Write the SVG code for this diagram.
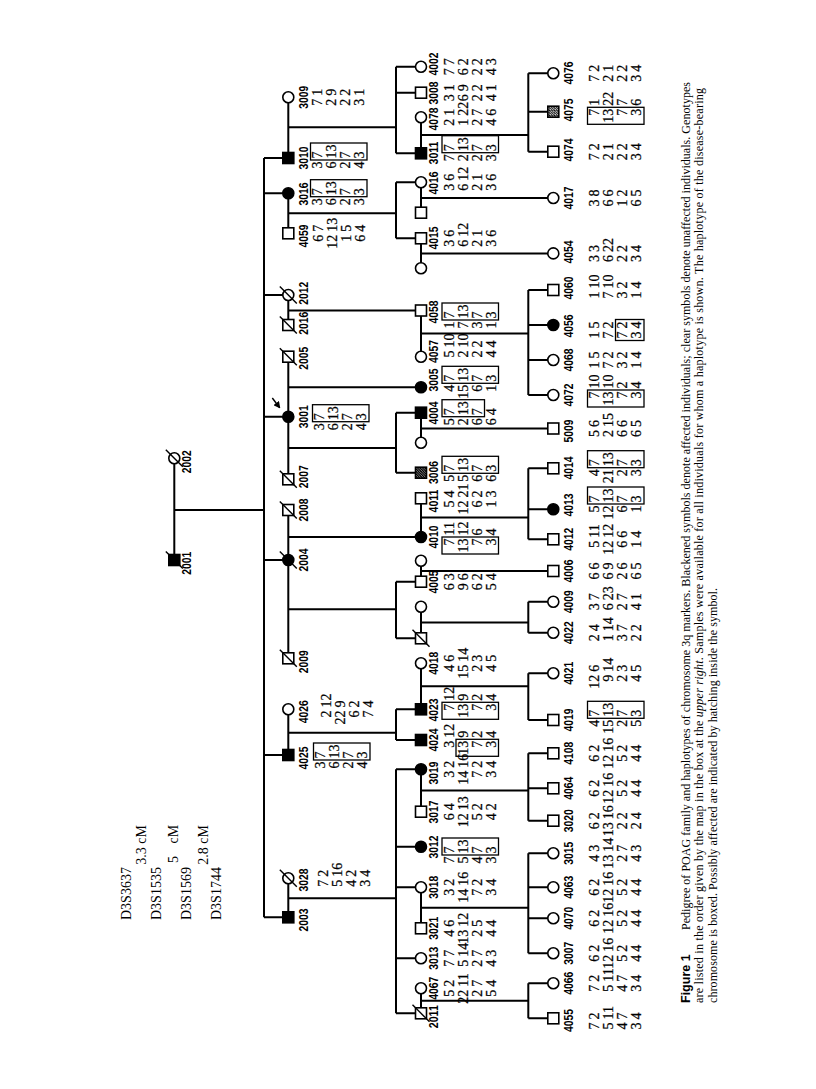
<svg xmlns="http://www.w3.org/2000/svg" width="816" height="1089" viewBox="0 0 816 1089">
<style>
.ln{fill:none;stroke:#000;stroke-width:2}
.s{fill:#fff;stroke:#000;stroke-width:1.6}
.f{fill:#000;stroke:#000;stroke-width:1.6}
.h{fill:url(#hat);stroke:#000;stroke-width:1.6}
.h2{fill:url(#hat2);stroke:#000;stroke-width:1.6}
.d{fill:none;stroke:#000;stroke-width:1.4}
.lb{font-family:"Liberation Sans Narrow","Liberation Sans",Arial,sans-serif;font-weight:bold;font-size:12.5px;text-anchor:middle}
.gt text{font-family:"Liberation Serif","Times New Roman",serif;font-size:14px;stroke:#000;stroke-width:0.25}
.gt .a{text-anchor:end}
.bx{fill:none;stroke:#000;stroke-width:1.3}
.mk{font-family:"Liberation Serif","Times New Roman",serif;font-size:14px}
.cap{font-family:"Liberation Serif","Times New Roman",serif;font-size:12px}
.fig{font-family:"Liberation Sans",Arial,sans-serif;font-weight:bold;font-size:12.5px}
</style>
<defs>
<pattern id="hat" width="2.5" height="2.5" patternUnits="userSpaceOnUse"><rect width="2.5" height="2.5" fill="#fff"/><path d="M0 2.5L2.5 0" stroke="#000" stroke-width="1.3"/></pattern>
<pattern id="hat2" width="2.5" height="2.5" patternUnits="userSpaceOnUse"><rect width="2.5" height="2.5" fill="#000"/><path d="M0 2.5L2.5 0" stroke="#fff" stroke-width="0.5"/></pattern>
<rect id="sq" x="-5.5" y="-5.5" width="11" height="11"/>
<circle id="ci" r="5.5"/>
<path id="sl" d="M-8.5 8.5L8.5-8.5"/>
<marker id="ah" viewBox="0 0 10 10" refX="8" refY="5" markerWidth="5" markerHeight="5" orient="auto"><path d="M0 0L10 5L0 10z"/></marker>
</defs>
<rect width="816" height="1089" fill="#fff"/>
<g transform="matrix(0,-1,1,0,0,1089)">
<g id="map">
<text class="mk" x="169" y="131.3">D3S3637</text>
<text class="mk" x="264" y="146.3" text-anchor="end">3.3 cM</text>
<text class="mk" x="169" y="161.3">D3S1535</text>
<text class="mk" x="226" y="178">5<tspan x="245.5">cM</tspan></text>
<text class="mk" x="169" y="191.3">D3S1569</text>
<text class="mk" x="264" y="208" text-anchor="end">2.8 cM</text>
<text class="mk" x="169" y="221.3">D3S1744</text>
</g>
<g id="connectors">
<path class="ln" d="M529 174.3H630.7M579 174.3V264M171.7 264H931M931 264V288.3M895.7 264V288.3M794 264V288.3M672.3 264V288.3M529 264V288.3M334 264V288.3M171.7 264V288.3
M931 288.3H991.7M855.7 288.3H895.7M764 288.3H794M609.7 288.3H732.3M430.7 288.3H579M334 288.3H379.7M171.7 288.3H210.7
M961.7 288.3V396M875.7 288.3V396M778.5 288.3V421M701.7 288.3V421M641 288.3V396M552 288.3V421M479.7 288.3V396M356.3 288.3V396M190.7 288.3V396
M935.7 396H1022.3M850.7 396H906.7M616.3 396H676.3M450.7 396H507.3M349 396H379.7M75.7 396H319.7
M1022.3 396V421M996.3 396V421M935.7 396V421M906.7 396V421M850.7 396V421M676.3 396V421M616.3 396V421M507.3 396V421M450.7 396V421M379.7 396V421M349 396V421M319.7 396V421M242.3 396V421M201.7 396V421M130.7 396V421M75.7 396V421
M935.7 421H971.7M876.3 421H906.7M820.7 421H850.7M732.3 421H778.5M646.3 421H676.3M552 421H590.7M507.3 421H528.3M450.7 421H482.3M379.7 421H425.7M277.3 421H319.7M160.7 421H201.7M75.7 421H100.7
M954 421V528.3M891 421V553.3M835.6 421V553.3M755.5 421V528.3M660.5 421V553.3M571.4 421V528.3M518 421V553.3M466.5 421V528.3M402.7 421V528.3M298.5 421V528.3M181.2 421V528.3M88.2 421V528.3
M937.3 528.3H1015.7M694 528.3H799M549.7 528.3H620.7M456.3 528.3H487.3M369 528.3H415.7M268.3 528.3H335.7M135.7 528.3H235.7M70.7 528.3H105.7
M1015.7 528.3V553.3M977.3 528.3V553.3M937.3 528.3V553.3M799 528.3V553.3M764 528.3V553.3M729 528.3V553.3M694 528.3V553.3M620.7 528.3V553.3M579.7 528.3V553.3M549.7 528.3V553.3M487.3 528.3V553.3M456.3 528.3V553.3M415.7 528.3V553.3M369 528.3V553.3M335.7 528.3V553.3M300.7 528.3V553.3M268.3 528.3V553.3M235.7 528.3V553.3M201.7 528.3V553.3M170.7 528.3V553.3M135.7 528.3V553.3M105.7 528.3V553.3M70.7 528.3V553.3"/>
<path d="M691 272.3L681.5 279.5" stroke="#000" stroke-width="1.4" marker-end="url(#ah)"/>
</g>
<!-- generation 1 -->
<g id="n2002"><use href="#ci" class="s" x="630.7" y="174.3"/><use href="#sl" class="d" x="630.7" y="174.3"/><text class="lb" x="627.3" y="191" textLength="23" lengthAdjust="spacingAndGlyphs">2002</text></g>
<g id="n2001"><use href="#sq" class="f" x="529" y="174.3"/><use href="#sl" class="d" x="529" y="174.3"/><text class="lb" x="525.7" y="191" textLength="23" lengthAdjust="spacingAndGlyphs">2001</text></g>
<!-- generation 2 -->
<g id="n3009"><use href="#ci" class="s" x="991.7" y="288.3"/><text class="lb" x="991.7" y="307.5" textLength="23" lengthAdjust="spacingAndGlyphs">3009</text>
<g class="gt" transform="translate(991.7,322)"><text class="a" x="-1.5">7</text><text x="1.5">1</text><text class="a" x="-1.5" y="14">2</text><text x="1.5" y="14">9</text><text class="a" x="-1.5" y="28">2</text><text x="1.5" y="28">2</text><text class="a" x="-1.5" y="42">3</text><text x="1.5" y="42">1</text></g></g>
<g id="n3010"><use href="#sq" class="f" x="931" y="288.3"/><text class="lb" x="931" y="307.5" textLength="23" lengthAdjust="spacingAndGlyphs">3010</text>
<g class="gt" transform="translate(929,322)"><text class="a" x="-1.5">3</text><text x="1.5">7</text><text class="a" x="-1.5" y="14">6</text><text x="1.5" y="14">13</text><text class="a" x="-1.5" y="28">2</text><text x="1.5" y="28">7</text><text class="a" x="-1.5" y="42">4</text><text x="1.5" y="42">3</text><rect class="bx" x="0" y="-11.5" width="17" height="56.5"/></g></g>
<g id="n3016"><use href="#ci" class="f" x="895.7" y="288.3"/><text class="lb" x="895" y="307.5" textLength="23" lengthAdjust="spacingAndGlyphs">3016</text>
<g class="gt" transform="translate(892.3,322)"><text class="a" x="-1.5">3</text><text x="1.5">7</text><text class="a" x="-1.5" y="14">6</text><text x="1.5" y="14">13</text><text class="a" x="-1.5" y="28">2</text><text x="1.5" y="28">7</text><text class="a" x="-1.5" y="42">3</text><text x="1.5" y="42">3</text><rect class="bx" x="0" y="-11.5" width="17" height="56.5"/></g></g>
<g id="n4059"><use href="#sq" class="s" x="855.7" y="288.3"/><text class="lb" x="853" y="307.5" textLength="23" lengthAdjust="spacingAndGlyphs">4059</text>
<g class="gt" transform="translate(855.7,322.5)"><text class="a" x="-1.5">6</text><text x="1.5">7</text><text class="a" x="-1.5" y="14">12</text><text x="1.5" y="14">13</text><text class="a" x="-1.5" y="28">1</text><text x="1.5" y="28">5</text><text class="a" x="-1.5" y="42">6</text><text x="1.5" y="42">4</text></g></g>
<g id="n2012"><use href="#ci" class="s" x="794" y="288.3"/><use href="#sl" class="d" x="794" y="288.3"/><text class="lb" x="795.7" y="307.5" textLength="23" lengthAdjust="spacingAndGlyphs">2012</text></g>
<g id="n2016"><use href="#sq" class="s" x="764" y="288.3"/><use href="#sl" class="d" x="764" y="288.3"/><text class="lb" x="765.7" y="307.5" textLength="23" lengthAdjust="spacingAndGlyphs">2016</text></g>
<g id="n2005"><use href="#sq" class="s" x="732.3" y="288.3"/><use href="#sl" class="d" x="732.3" y="288.3"/><text class="lb" x="730.7" y="307.5" textLength="23" lengthAdjust="spacingAndGlyphs">2005</text></g>
<g id="n3001"><use href="#ci" class="f" x="672.3" y="288.3"/><text class="lb" x="672.3" y="307.5" textLength="23" lengthAdjust="spacingAndGlyphs">3001</text>
<g class="gt" transform="translate(667.3,324)"><text class="a" x="-1.5">3</text><text x="1.5">7</text><text class="a" x="-1.5" y="14">6</text><text x="1.5" y="14">13</text><text class="a" x="-1.5" y="28">2</text><text x="1.5" y="28">7</text><text class="a" x="-1.5" y="42">4</text><text x="1.5" y="42">3</text><rect class="bx" x="0" y="-11.5" width="17" height="56.5"/></g></g>
<g id="n2007"><use href="#sq" class="s" x="609.7" y="288.3"/><use href="#sl" class="d" x="609.7" y="288.3"/><text class="lb" x="612.3" y="307.5" textLength="23" lengthAdjust="spacingAndGlyphs">2007</text></g>
<g id="n2008"><use href="#sq" class="s" x="579" y="288.3"/><use href="#sl" class="d" x="579" y="288.3"/><text class="lb" x="579" y="307.5" textLength="23" lengthAdjust="spacingAndGlyphs">2008</text></g>
<g id="n2004"><use href="#ci" class="f" x="529" y="288.3"/><use href="#sl" class="d" x="529" y="288.3"/><text class="lb" x="529" y="307.5" textLength="23" lengthAdjust="spacingAndGlyphs">2004</text></g>
<g id="n2009"><use href="#sq" class="s" x="430.7" y="288.3"/><use href="#sl" class="d" x="430.7" y="288.3"/><text class="lb" x="427.3" y="307.5" textLength="23" lengthAdjust="spacingAndGlyphs">2009</text></g>
<g id="n4026"><use href="#ci" class="s" x="379.7" y="288.3"/><text class="lb" x="377.3" y="307.5" textLength="23" lengthAdjust="spacingAndGlyphs">4026</text>
<g class="gt" transform="translate(380,331)"><text class="a" x="-1.5">2</text><text x="1.5">12</text><text class="a" x="-1.5" y="14">22</text><text x="1.5" y="14">9</text><text class="a" x="-1.5" y="28">6</text><text x="1.5" y="28">2</text><text class="a" x="-1.5" y="42">7</text><text x="1.5" y="42">4</text></g></g>
<g id="n4025"><use href="#sq" class="f" x="334" y="288.3"/><text class="lb" x="331" y="307.5" textLength="23" lengthAdjust="spacingAndGlyphs">4025</text>
<g class="gt" transform="translate(329,325)"><text class="a" x="-1.5">3</text><text x="1.5">7</text><text class="a" x="-1.5" y="14">6</text><text x="1.5" y="14">13</text><text class="a" x="-1.5" y="28">2</text><text x="1.5" y="28">7</text><text class="a" x="-1.5" y="42">4</text><text x="1.5" y="42">3</text><rect class="bx" x="0" y="-11.5" width="17" height="56.5"/></g></g>
<g id="n3028"><use href="#ci" class="s" x="210.7" y="288.3"/><use href="#sl" class="d" x="210.7" y="288.3"/><text class="lb" x="209" y="307.5" textLength="23" lengthAdjust="spacingAndGlyphs">3028</text>
<g class="gt" transform="translate(210.7,328)"><text class="a" x="-1.5">7</text><text x="1.5">2</text><text class="a" x="-1.5" y="14">5</text><text x="1.5" y="14">16</text><text class="a" x="-1.5" y="28">4</text><text x="1.5" y="28">2</text><text class="a" x="-1.5" y="42">3</text><text x="1.5" y="42">4</text></g></g>
<g id="n2003"><use href="#sq" class="f" x="171.7" y="288.3"/><text class="lb" x="169" y="307.5" textLength="23" lengthAdjust="spacingAndGlyphs">2003</text></g>
<!-- generation 3 -->
<g id="n4002"><use href="#ci" class="s" x="1022.3" y="421"/><text class="lb" x="1025" y="437.5" textLength="23" lengthAdjust="spacingAndGlyphs">4002</text>
<g class="gt" transform="translate(1022.3,453.5)"><text class="a" x="-1.5">7</text><text x="1.5">7</text><text class="a" x="-1.5" y="14">6</text><text x="1.5" y="14">2</text><text class="a" x="-1.5" y="28">2</text><text x="1.5" y="28">2</text><text class="a" x="-1.5" y="42">4</text><text x="1.5" y="42">3</text></g></g>
<g id="n3008"><use href="#sq" class="s" x="996.3" y="421"/><text class="lb" x="996" y="437.5" textLength="23" lengthAdjust="spacingAndGlyphs">3008</text>
<g class="gt" transform="translate(996.3,453.5)"><text class="a" x="-1.5">3</text><text x="1.5">1</text><text class="a" x="-1.5" y="14">6</text><text x="1.5" y="14">9</text><text class="a" x="-1.5" y="28">2</text><text x="1.5" y="28">2</text><text class="a" x="-1.5" y="42">4</text><text x="1.5" y="42">1</text></g></g>
<g id="n4078"><use href="#ci" class="s" x="971.7" y="421"/><text class="lb" x="970" y="437.5" textLength="23" lengthAdjust="spacingAndGlyphs">4078</text>
<g class="gt" transform="translate(971.7,453.5)"><text class="a" x="-1.5">2</text><text x="1.5">1</text><text class="a" x="-1.5" y="14">1</text><text x="1.5" y="14">22</text><text class="a" x="-1.5" y="28">2</text><text x="1.5" y="28">7</text><text class="a" x="-1.5" y="42">4</text><text x="1.5" y="42">6</text></g></g>
<g id="n3011"><use href="#sq" class="f" x="935.7" y="421"/><text class="lb" x="936" y="437.5" textLength="23" lengthAdjust="spacingAndGlyphs">3011</text>
<g class="gt" transform="translate(936.3,453.5)"><text class="a" x="-1.5">7</text><text x="1.5">7</text><text class="a" x="-1.5" y="14">2</text><text x="1.5" y="14">13</text><text class="a" x="-1.5" y="28">2</text><text x="1.5" y="28">7</text><text class="a" x="-1.5" y="42">3</text><text x="1.5" y="42">3</text><rect class="bx" x="0" y="-11.5" width="17" height="56.5"/></g></g>
<g id="n4016"><use href="#ci" class="s" x="906.7" y="421"/><text class="lb" x="906" y="437.5" textLength="23" lengthAdjust="spacingAndGlyphs">4016</text>
<g class="gt" transform="translate(906.7,453.5)"><text class="a" x="-1.5">3</text><text x="1.5">6</text><text class="a" x="-1.5" y="14">6</text><text x="1.5" y="14">12</text><text class="a" x="-1.5" y="28">2</text><text x="1.5" y="28">1</text><text class="a" x="-1.5" y="42">3</text><text x="1.5" y="42">6</text></g></g>
<g id="sp4016"><use href="#sq" class="s" x="876.3" y="421"/></g>
<g id="n4015"><use href="#sq" class="s" x="850.7" y="421"/><text class="lb" x="851" y="437.5" textLength="23" lengthAdjust="spacingAndGlyphs">4015</text>
<g class="gt" transform="translate(850.7,453.5)"><text class="a" x="-1.5">3</text><text x="1.5">6</text><text class="a" x="-1.5" y="14">6</text><text x="1.5" y="14">12</text><text class="a" x="-1.5" y="28">2</text><text x="1.5" y="28">1</text><text class="a" x="-1.5" y="42">3</text><text x="1.5" y="42">6</text></g></g>
<g id="sp4015"><use href="#ci" class="s" x="820.7" y="421"/></g>
<g id="n4058"><use href="#sq" class="s" x="778.5" y="421"/><text class="lb" x="777" y="437.5" textLength="23" lengthAdjust="spacingAndGlyphs">4058</text>
<g class="gt" transform="translate(769,453.5)"><text class="a" x="-1.5">1</text><text x="1.5">7</text><text class="a" x="-1.5" y="14">7</text><text x="1.5" y="14">13</text><text class="a" x="-1.5" y="28">3</text><text x="1.5" y="28">7</text><text class="a" x="-1.5" y="42">1</text><text x="1.5" y="42">3</text><rect class="bx" x="0" y="-11.5" width="17" height="56.5"/></g></g>
<g id="n4057"><use href="#ci" class="s" x="732.3" y="421"/><text class="lb" x="737.5" y="437.5" textLength="23" lengthAdjust="spacingAndGlyphs">4057</text>
<g class="gt" transform="translate(740,453.5)"><text class="a" x="-1.5">5</text><text x="1.5">10</text><text class="a" x="-1.5" y="14">2</text><text x="1.5" y="14">10</text><text class="a" x="-1.5" y="28">2</text><text x="1.5" y="28">2</text><text class="a" x="-1.5" y="42">4</text><text x="1.5" y="42">4</text></g></g>
<g id="n3005"><use href="#ci" class="f" x="701.7" y="421"/><text class="lb" x="709" y="437.5" textLength="23" lengthAdjust="spacingAndGlyphs">3005</text>
<g class="gt" transform="translate(705.7,453.5)"><text class="a" x="-1.5">4</text><text x="1.5">7</text><text class="a" x="-1.5" y="14">15</text><text x="1.5" y="14">13</text><text class="a" x="-1.5" y="28">6</text><text x="1.5" y="28">7</text><text class="a" x="-1.5" y="42">1</text><text x="1.5" y="42">3</text><rect class="bx" x="0" y="-11.5" width="17" height="56.5"/></g></g>
<g id="n4004"><use href="#sq" class="f" x="676.3" y="421"/><text class="lb" x="676" y="437.5" textLength="23" lengthAdjust="spacingAndGlyphs">4004</text>
<g class="gt" transform="translate(672.3,453.5)"><text class="a" x="-1.5">5</text><text x="1.5">7</text><text class="a" x="-1.5" y="14">2</text><text x="1.5" y="14">13</text><text class="a" x="-1.5" y="28">6</text><text x="1.5" y="28">7</text><text class="a" x="-1.5" y="42">6</text><text x="1.5" y="42">4</text><rect class="bx" x="0" y="-11.5" width="17" height="42.5"/></g></g>
<g id="sp4004"><use href="#ci" class="s" x="646.3" y="421"/></g>
<g id="n3006"><use href="#sq" class="h2" x="616.3" y="421"/><text class="lb" x="616.5" y="437.5" textLength="23" lengthAdjust="spacingAndGlyphs">3006</text>
<g class="gt" transform="translate(615.7,453.5)"><text class="a" x="-1.5">5</text><text x="1.5">7</text><text class="a" x="-1.5" y="14">5</text><text x="1.5" y="14">13</text><text class="a" x="-1.5" y="28">6</text><text x="1.5" y="28">7</text><text class="a" x="-1.5" y="42">6</text><text x="1.5" y="42">3</text><rect class="bx" x="0" y="-11.5" width="17" height="56.5"/></g></g>
<g id="n4011"><use href="#sq" class="s" x="590.7" y="421"/><text class="lb" x="588" y="437.5" textLength="23" lengthAdjust="spacingAndGlyphs">4011</text>
<g class="gt" transform="translate(590,453.5)"><text class="a" x="-1.5">5</text><text x="1.5">4</text><text class="a" x="-1.5" y="14">12</text><text x="1.5" y="14">21</text><text class="a" x="-1.5" y="28">6</text><text x="1.5" y="28">2</text><text class="a" x="-1.5" y="42">1</text><text x="1.5" y="42">3</text></g></g>
<g id="n4010"><use href="#ci" class="f" x="552" y="421"/><text class="lb" x="552" y="437.5" textLength="23" lengthAdjust="spacingAndGlyphs">4010</text>
<g class="gt" transform="translate(552,453.5)"><text class="a" x="-1.5">7</text><text x="1.5">11</text><text class="a" x="-1.5" y="14">13</text><text x="1.5" y="14">12</text><text class="a" x="-1.5" y="28">7</text><text x="1.5" y="28">6</text><text class="a" x="-1.5" y="42">3</text><text x="1.5" y="42">4</text><rect class="bx" x="-17" y="-11.5" width="17" height="56.5"/></g></g>
<g id="sp4005"><use href="#ci" class="s" x="528.3" y="421"/></g>
<g id="n4005"><use href="#sq" class="s" x="507.3" y="421"/><text class="lb" x="507" y="437.5" textLength="23" lengthAdjust="spacingAndGlyphs">4005</text>
<g class="gt" transform="translate(507.3,453.5)"><text class="a" x="-1.5">6</text><text x="1.5">3</text><text class="a" x="-1.5" y="14">9</text><text x="1.5" y="14">6</text><text class="a" x="-1.5" y="28">6</text><text x="1.5" y="28">2</text><text class="a" x="-1.5" y="42">5</text><text x="1.5" y="42">4</text></g></g>
<g id="spd3"><use href="#ci" class="s" x="482.3" y="421"/></g>
<g id="d3"><use href="#sq" class="s" x="450.7" y="421"/><use href="#sl" class="d" x="450.7" y="421"/></g>
<g id="n4018"><use href="#ci" class="s" x="425.7" y="421"/><text class="lb" x="425.7" y="437.5" textLength="23" lengthAdjust="spacingAndGlyphs">4018</text>
<g class="gt" transform="translate(425.7,453.5)"><text class="a" x="-1.5">4</text><text x="1.5">6</text><text class="a" x="-1.5" y="14">15</text><text x="1.5" y="14">14</text><text class="a" x="-1.5" y="28">2</text><text x="1.5" y="28">3</text><text class="a" x="-1.5" y="42">4</text><text x="1.5" y="42">5</text></g></g>
<g id="n4023"><use href="#sq" class="f" x="379.7" y="421"/><text class="lb" x="379" y="437.5" textLength="23" lengthAdjust="spacingAndGlyphs">4023</text>
<g class="gt" transform="translate(386.7,453.5)"><text class="a" x="-1.5">7</text><text x="1.5">12</text><text class="a" x="-1.5" y="14">13</text><text x="1.5" y="14">9</text><text class="a" x="-1.5" y="28">7</text><text x="1.5" y="28">2</text><text class="a" x="-1.5" y="42">3</text><text x="1.5" y="42">4</text><rect class="bx" x="-17" y="-11.5" width="17" height="56.5"/></g></g>
<g id="n4024"><use href="#sq" class="f" x="349" y="421"/><text class="lb" x="349" y="437.5" textLength="23" lengthAdjust="spacingAndGlyphs">4024</text>
<g class="gt" transform="translate(349.7,453.5)"><text class="a" x="-1.5">3</text><text x="1.5">12</text><text class="a" x="-1.5" y="14">13</text><text x="1.5" y="14">9</text><text class="a" x="-1.5" y="28">7</text><text x="1.5" y="28">2</text><text class="a" x="-1.5" y="42">3</text><text x="1.5" y="42">4</text><rect class="bx" x="-17" y="2.5" width="17" height="42.5"/></g></g>
<g id="n3019"><use href="#ci" class="f" x="319.7" y="421"/><text class="lb" x="316" y="437.5" textLength="23" lengthAdjust="spacingAndGlyphs">3019</text>
<g class="gt" transform="translate(319.7,453.5)"><text class="a" x="-1.5">3</text><text x="1.5">2</text><text class="a" x="-1.5" y="14">14</text><text x="1.5" y="14">16</text><text class="a" x="-1.5" y="28">7</text><text x="1.5" y="28">2</text><text class="a" x="-1.5" y="42">3</text><text x="1.5" y="42">4</text></g></g>
<g id="n3017"><use href="#sq" class="s" x="277.3" y="421"/><text class="lb" x="277" y="437.5" textLength="23" lengthAdjust="spacingAndGlyphs">3017</text>
<g class="gt" transform="translate(277.3,453.5)"><text class="a" x="-1.5">6</text><text x="1.5">4</text><text class="a" x="-1.5" y="14">12</text><text x="1.5" y="14">13</text><text class="a" x="-1.5" y="28">5</text><text x="1.5" y="28">2</text><text class="a" x="-1.5" y="42">4</text><text x="1.5" y="42">2</text></g></g>
<g id="n3012"><use href="#ci" class="f" x="242.3" y="421"/><text class="lb" x="242" y="437.5" textLength="23" lengthAdjust="spacingAndGlyphs">3012</text>
<g class="gt" transform="translate(234,453.5)"><text class="a" x="-1.5">7</text><text x="1.5">7</text><text class="a" x="-1.5" y="14">5</text><text x="1.5" y="14">13</text><text class="a" x="-1.5" y="28">4</text><text x="1.5" y="28">7</text><text class="a" x="-1.5" y="42">3</text><text x="1.5" y="42">3</text><rect class="bx" x="0" y="-11.5" width="17" height="56.5"/></g></g>
<g id="n3018"><use href="#ci" class="s" x="201.7" y="421"/><text class="lb" x="201.7" y="437.5" textLength="23" lengthAdjust="spacingAndGlyphs">3018</text>
<g class="gt" transform="translate(201.7,453.5)"><text class="a" x="-1.5">3</text><text x="1.5">2</text><text class="a" x="-1.5" y="14">14</text><text x="1.5" y="14">16</text><text class="a" x="-1.5" y="28">7</text><text x="1.5" y="28">2</text><text class="a" x="-1.5" y="42">3</text><text x="1.5" y="42">4</text></g></g>
<g id="n3021"><use href="#sq" class="s" x="160.7" y="421"/><text class="lb" x="160.7" y="437.5" textLength="23" lengthAdjust="spacingAndGlyphs">3021</text>
<g class="gt" transform="translate(160.7,453.5)"><text class="a" x="-1.5">4</text><text x="1.5">6</text><text class="a" x="-1.5" y="14">13</text><text x="1.5" y="14">12</text><text class="a" x="-1.5" y="28">2</text><text x="1.5" y="28">5</text><text class="a" x="-1.5" y="42">4</text><text x="1.5" y="42">4</text></g></g>
<g id="n3013"><use href="#ci" class="s" x="130.7" y="421"/><text class="lb" x="130.7" y="437.5" textLength="23" lengthAdjust="spacingAndGlyphs">3013</text>
<g class="gt" transform="translate(130.7,453.5)"><text class="a" x="-1.5">7</text><text x="1.5">7</text><text class="a" x="-1.5" y="14">5</text><text x="1.5" y="14">14</text><text class="a" x="-1.5" y="28">2</text><text x="1.5" y="28">7</text><text class="a" x="-1.5" y="42">4</text><text x="1.5" y="42">3</text></g></g>
<g id="n4067"><use href="#ci" class="s" x="100.7" y="421"/><text class="lb" x="100.7" y="437.5" textLength="23" lengthAdjust="spacingAndGlyphs">4067</text>
<g class="gt" transform="translate(100.7,453.5)"><text class="a" x="-1.5">5</text><text x="1.5">2</text><text class="a" x="-1.5" y="14">22</text><text x="1.5" y="14">11</text><text class="a" x="-1.5" y="28">2</text><text x="1.5" y="28">7</text><text class="a" x="-1.5" y="42">5</text><text x="1.5" y="42">4</text></g></g>
<g id="n2011"><use href="#sq" class="s" x="75.7" y="421"/><use href="#sl" class="d" x="75.7" y="421"/><text class="lb" x="72.3" y="437.5" textLength="23" lengthAdjust="spacingAndGlyphs">2011</text></g>
<!-- generation 4 -->
<g id="n4076"><use href="#ci" class="s" x="1015.7" y="553.3"/><text class="lb" x="1016" y="572.5" textLength="23" lengthAdjust="spacingAndGlyphs">4076</text>
<g class="gt" transform="translate(1015.7,599)"><text class="a" x="-1.5">7</text><text x="1.5">2</text><text class="a" x="-1.5" y="14">2</text><text x="1.5" y="14">1</text><text class="a" x="-1.5" y="28">2</text><text x="1.5" y="28">2</text><text class="a" x="-1.5" y="42">3</text><text x="1.5" y="42">4</text></g></g>
<g id="n4075"><use href="#sq" class="h" x="977.3" y="553.3"/><text class="lb" x="979" y="572.5" textLength="23" lengthAdjust="spacingAndGlyphs">4075</text>
<g class="gt" transform="translate(981.7,599)"><text class="a" x="-1.5">7</text><text x="1.5">1</text><text class="a" x="-1.5" y="14">13</text><text x="1.5" y="14">22</text><text class="a" x="-1.5" y="28">7</text><text x="1.5" y="28">7</text><text class="a" x="-1.5" y="42">3</text><text x="1.5" y="42">6</text><rect class="bx" x="-17" y="-11.5" width="17" height="56.5"/></g></g>
<g id="n4074"><use href="#sq" class="s" x="937.3" y="553.3"/><text class="lb" x="939" y="572.5" textLength="23" lengthAdjust="spacingAndGlyphs">4074</text>
<g class="gt" transform="translate(937.3,599)"><text class="a" x="-1.5">7</text><text x="1.5">2</text><text class="a" x="-1.5" y="14">2</text><text x="1.5" y="14">1</text><text class="a" x="-1.5" y="28">2</text><text x="1.5" y="28">2</text><text class="a" x="-1.5" y="42">3</text><text x="1.5" y="42">4</text></g></g>
<g id="n4017"><use href="#ci" class="s" x="891" y="553.3"/><text class="lb" x="891" y="572.5" textLength="23" lengthAdjust="spacingAndGlyphs">4017</text>
<g class="gt" transform="translate(891,599)"><text class="a" x="-1.5">3</text><text x="1.5">8</text><text class="a" x="-1.5" y="14">6</text><text x="1.5" y="14">6</text><text class="a" x="-1.5" y="28">1</text><text x="1.5" y="28">2</text><text class="a" x="-1.5" y="42">6</text><text x="1.5" y="42">5</text></g></g>
<g id="n4054"><use href="#ci" class="s" x="835.6" y="553.3"/><text class="lb" x="837" y="572.5" textLength="23" lengthAdjust="spacingAndGlyphs">4054</text>
<g class="gt" transform="translate(835.6,599)"><text class="a" x="-1.5">3</text><text x="1.5">3</text><text class="a" x="-1.5" y="14">6</text><text x="1.5" y="14">22</text><text class="a" x="-1.5" y="28">2</text><text x="1.5" y="28">2</text><text class="a" x="-1.5" y="42">3</text><text x="1.5" y="42">4</text></g></g>
<g id="n4060"><use href="#sq" class="s" x="799" y="553.3"/><text class="lb" x="801" y="572.5" textLength="23" lengthAdjust="spacingAndGlyphs">4060</text>
<g class="gt" transform="translate(799,599)"><text class="a" x="-1.5">1</text><text x="1.5">10</text><text class="a" x="-1.5" y="14">7</text><text x="1.5" y="14">10</text><text class="a" x="-1.5" y="28">3</text><text x="1.5" y="28">2</text><text class="a" x="-1.5" y="42">1</text><text x="1.5" y="42">4</text></g></g>
<g id="n4056"><use href="#ci" class="f" x="764" y="553.3"/><text class="lb" x="763" y="572.5" textLength="23" lengthAdjust="spacingAndGlyphs">4056</text>
<g class="gt" transform="translate(759,599)"><text class="a" x="-1.5">1</text><text x="1.5">5</text><text class="a" x="-1.5" y="14">7</text><text x="1.5" y="14">2</text><text class="a" x="-1.5" y="28">7</text><text x="1.5" y="28">2</text><text class="a" x="-1.5" y="42">3</text><text x="1.5" y="42">4</text><rect class="bx" x="-10.5" y="16.5" width="21" height="28.5"/></g></g>
<g id="n4068"><use href="#ci" class="s" x="729" y="553.3"/><text class="lb" x="729" y="572.5" textLength="23" lengthAdjust="spacingAndGlyphs">4068</text>
<g class="gt" transform="translate(729,599)"><text class="a" x="-1.5">1</text><text x="1.5">5</text><text class="a" x="-1.5" y="14">7</text><text x="1.5" y="14">2</text><text class="a" x="-1.5" y="28">3</text><text x="1.5" y="28">2</text><text class="a" x="-1.5" y="42">1</text><text x="1.5" y="42">4</text></g></g>
<g id="n4072"><use href="#ci" class="s" x="694" y="553.3"/><text class="lb" x="694" y="572.5" textLength="23" lengthAdjust="spacingAndGlyphs">4072</text>
<g class="gt" transform="translate(699,599)"><text class="a" x="-1.5">7</text><text x="1.5">10</text><text class="a" x="-1.5" y="14">13</text><text x="1.5" y="14">10</text><text class="a" x="-1.5" y="28">7</text><text x="1.5" y="28">2</text><text class="a" x="-1.5" y="42">3</text><text x="1.5" y="42">4</text><rect class="bx" x="-17" y="-11.5" width="17" height="56.5"/></g></g>
<g id="n5009"><use href="#sq" class="s" x="660.5" y="553.3"/><text class="lb" x="658" y="572.5" textLength="23" lengthAdjust="spacingAndGlyphs">5009</text>
<g class="gt" transform="translate(660.5,599)"><text class="a" x="-1.5">5</text><text x="1.5">6</text><text class="a" x="-1.5" y="14">2</text><text x="1.5" y="14">15</text><text class="a" x="-1.5" y="28">6</text><text x="1.5" y="28">6</text><text class="a" x="-1.5" y="42">6</text><text x="1.5" y="42">5</text></g></g>
<g id="n4014"><use href="#sq" class="s" x="620.7" y="553.3"/><text class="lb" x="621" y="572.5" textLength="23" lengthAdjust="spacingAndGlyphs">4014</text>
<g class="gt" transform="translate(621.3,599)"><text class="a" x="-1.5">4</text><text x="1.5">7</text><text class="a" x="-1.5" y="14">21</text><text x="1.5" y="14">13</text><text class="a" x="-1.5" y="28">2</text><text x="1.5" y="28">7</text><text class="a" x="-1.5" y="42">3</text><text x="1.5" y="42">3</text><rect class="bx" x="0" y="-11.5" width="17" height="56.5"/></g></g>
<g id="n4013"><use href="#ci" class="f" x="579.7" y="553.3"/><text class="lb" x="584" y="572.5" textLength="23" lengthAdjust="spacingAndGlyphs">4013</text>
<g class="gt" transform="translate(585,599)"><text class="a" x="-1.5">5</text><text x="1.5">7</text><text class="a" x="-1.5" y="14">12</text><text x="1.5" y="14">13</text><text class="a" x="-1.5" y="28">6</text><text x="1.5" y="28">7</text><text class="a" x="-1.5" y="42">1</text><text x="1.5" y="42">3</text><rect class="bx" x="0" y="-11.5" width="17" height="56.5"/></g></g>
<g id="n4012"><use href="#sq" class="s" x="549.7" y="553.3"/><text class="lb" x="549.7" y="572.5" textLength="23" lengthAdjust="spacingAndGlyphs">4012</text>
<g class="gt" transform="translate(549.7,599)"><text class="a" x="-1.5">5</text><text x="1.5">11</text><text class="a" x="-1.5" y="14">12</text><text x="1.5" y="14">12</text><text class="a" x="-1.5" y="28">6</text><text x="1.5" y="28">6</text><text class="a" x="-1.5" y="42">1</text><text x="1.5" y="42">4</text></g></g>
<g id="n4006"><use href="#sq" class="s" x="518" y="553.3"/><text class="lb" x="518" y="572.5" textLength="23" lengthAdjust="spacingAndGlyphs">4006</text>
<g class="gt" transform="translate(518,599)"><text class="a" x="-1.5">6</text><text x="1.5">6</text><text class="a" x="-1.5" y="14">6</text><text x="1.5" y="14">9</text><text class="a" x="-1.5" y="28">2</text><text x="1.5" y="28">6</text><text class="a" x="-1.5" y="42">6</text><text x="1.5" y="42">5</text></g></g>
<g id="n4009"><use href="#ci" class="s" x="487.3" y="553.3"/><text class="lb" x="487.3" y="572.5" textLength="23" lengthAdjust="spacingAndGlyphs">4009</text>
<g class="gt" transform="translate(487.3,599)"><text class="a" x="-1.5">3</text><text x="1.5">7</text><text class="a" x="-1.5" y="14">6</text><text x="1.5" y="14">23</text><text class="a" x="-1.5" y="28">2</text><text x="1.5" y="28">7</text><text class="a" x="-1.5" y="42">4</text><text x="1.5" y="42">1</text></g></g>
<g id="n4022"><use href="#ci" class="s" x="456.3" y="553.3"/><text class="lb" x="456.3" y="572.5" textLength="23" lengthAdjust="spacingAndGlyphs">4022</text>
<g class="gt" transform="translate(456.3,599)"><text class="a" x="-1.5">2</text><text x="1.5">4</text><text class="a" x="-1.5" y="14">1</text><text x="1.5" y="14">14</text><text class="a" x="-1.5" y="28">3</text><text x="1.5" y="28">7</text><text class="a" x="-1.5" y="42">2</text><text x="1.5" y="42">2</text></g></g>
<g id="n4021"><use href="#ci" class="s" x="415.7" y="553.3"/><text class="lb" x="415.7" y="572.5" textLength="23" lengthAdjust="spacingAndGlyphs">4021</text>
<g class="gt" transform="translate(415.7,599)"><text class="a" x="-1.5">12</text><text x="1.5">6</text><text class="a" x="-1.5" y="14">9</text><text x="1.5" y="14">14</text><text class="a" x="-1.5" y="28">2</text><text x="1.5" y="28">3</text><text class="a" x="-1.5" y="42">4</text><text x="1.5" y="42">5</text></g></g>
<g id="n4019"><use href="#sq" class="s" x="369" y="553.3"/><text class="lb" x="369" y="572.5" textLength="23" lengthAdjust="spacingAndGlyphs">4019</text>
<g class="gt" transform="translate(370.7,599)"><text class="a" x="-1.5">4</text><text x="1.5">7</text><text class="a" x="-1.5" y="14">15</text><text x="1.5" y="14">13</text><text class="a" x="-1.5" y="28">2</text><text x="1.5" y="28">7</text><text class="a" x="-1.5" y="42">5</text><text x="1.5" y="42">3</text><rect class="bx" x="0" y="-11.5" width="17" height="56.5"/></g></g>
<g id="n4108"><use href="#sq" class="s" x="335.7" y="553.3"/><text class="lb" x="335.7" y="572.5" textLength="23" lengthAdjust="spacingAndGlyphs">4108</text>
<g class="gt" transform="translate(335.7,599)"><text class="a" x="-1.5">6</text><text x="1.5">2</text><text class="a" x="-1.5" y="14">12</text><text x="1.5" y="14">16</text><text class="a" x="-1.5" y="28">5</text><text x="1.5" y="28">2</text><text class="a" x="-1.5" y="42">4</text><text x="1.5" y="42">4</text></g></g>
<g id="n4064"><use href="#sq" class="s" x="300.7" y="553.3"/><text class="lb" x="300.7" y="572.5" textLength="23" lengthAdjust="spacingAndGlyphs">4064</text>
<g class="gt" transform="translate(300.7,599)"><text class="a" x="-1.5">6</text><text x="1.5">2</text><text class="a" x="-1.5" y="14">12</text><text x="1.5" y="14">16</text><text class="a" x="-1.5" y="28">5</text><text x="1.5" y="28">2</text><text class="a" x="-1.5" y="42">4</text><text x="1.5" y="42">4</text></g></g>
<g id="n3020"><use href="#sq" class="s" x="268.3" y="553.3"/><text class="lb" x="268.3" y="572.5" textLength="23" lengthAdjust="spacingAndGlyphs">3020</text>
<g class="gt" transform="translate(268.3,599)"><text class="a" x="-1.5">6</text><text x="1.5">2</text><text class="a" x="-1.5" y="14">13</text><text x="1.5" y="14">16</text><text class="a" x="-1.5" y="28">2</text><text x="1.5" y="28">2</text><text class="a" x="-1.5" y="42">2</text><text x="1.5" y="42">4</text></g></g>
<g id="n3015"><use href="#ci" class="s" x="235.7" y="553.3"/><text class="lb" x="235.7" y="572.5" textLength="23" lengthAdjust="spacingAndGlyphs">3015</text>
<g class="gt" transform="translate(235.7,599)"><text class="a" x="-1.5">4</text><text x="1.5">3</text><text class="a" x="-1.5" y="14">13</text><text x="1.5" y="14">14</text><text class="a" x="-1.5" y="28">2</text><text x="1.5" y="28">7</text><text class="a" x="-1.5" y="42">4</text><text x="1.5" y="42">3</text></g></g>
<g id="n4063"><use href="#ci" class="s" x="201.7" y="553.3"/><text class="lb" x="201.7" y="572.5" textLength="23" lengthAdjust="spacingAndGlyphs">4063</text>
<g class="gt" transform="translate(201.7,599)"><text class="a" x="-1.5">6</text><text x="1.5">2</text><text class="a" x="-1.5" y="14">12</text><text x="1.5" y="14">16</text><text class="a" x="-1.5" y="28">5</text><text x="1.5" y="28">2</text><text class="a" x="-1.5" y="42">4</text><text x="1.5" y="42">4</text></g></g>
<g id="n4070"><use href="#ci" class="s" x="170.7" y="553.3"/><text class="lb" x="170.7" y="572.5" textLength="23" lengthAdjust="spacingAndGlyphs">4070</text>
<g class="gt" transform="translate(170.7,599)"><text class="a" x="-1.5">6</text><text x="1.5">2</text><text class="a" x="-1.5" y="14">12</text><text x="1.5" y="14">16</text><text class="a" x="-1.5" y="28">5</text><text x="1.5" y="28">2</text><text class="a" x="-1.5" y="42">4</text><text x="1.5" y="42">4</text></g></g>
<g id="n3007"><use href="#ci" class="s" x="135.7" y="553.3"/><text class="lb" x="135.7" y="572.5" textLength="23" lengthAdjust="spacingAndGlyphs">3007</text>
<g class="gt" transform="translate(135.7,599)"><text class="a" x="-1.5">6</text><text x="1.5">2</text><text class="a" x="-1.5" y="14">12</text><text x="1.5" y="14">16</text><text class="a" x="-1.5" y="28">5</text><text x="1.5" y="28">2</text><text class="a" x="-1.5" y="42">4</text><text x="1.5" y="42">4</text></g></g>
<g id="n4066"><use href="#ci" class="s" x="105.7" y="553.3"/><text class="lb" x="105.7" y="572.5" textLength="23" lengthAdjust="spacingAndGlyphs">4066</text>
<g class="gt" transform="translate(105.7,599)"><text class="a" x="-1.5">7</text><text x="1.5">2</text><text class="a" x="-1.5" y="14">5</text><text x="1.5" y="14">11</text><text class="a" x="-1.5" y="28">4</text><text x="1.5" y="28">7</text><text class="a" x="-1.5" y="42">3</text><text x="1.5" y="42">4</text></g></g>
<g id="n4055"><use href="#sq" class="s" x="70.7" y="553.3"/><text class="lb" x="68.5" y="572.5" textLength="23" lengthAdjust="spacingAndGlyphs">4055</text>
<g class="gt" transform="translate(68,599)"><text class="a" x="-1.5">7</text><text x="1.5">2</text><text class="a" x="-1.5" y="14">5</text><text x="1.5" y="14">11</text><text class="a" x="-1.5" y="28">4</text><text x="1.5" y="28">7</text><text class="a" x="-1.5" y="42">3</text><text x="1.5" y="42">4</text></g></g>
<g id="caption">
<text class="fig" x="86" y="689.5">Figure 1</text>
<text class="cap" x="159" y="689.5" textLength="848" lengthAdjust="spacing">Pedigree of POAG family and haplotypes of chromosome 3q markers. Blackened symbols denote affected individuals; clear symbols denote unaffected individuals. Genotypes</text>
<text class="cap" x="86" y="703" textLength="915" lengthAdjust="spacing">are listed in the order given by the map in the box at the <tspan font-style="italic">upper right</tspan>. Samples were available for all individuals for whom a haplotype is shown. The haplotype of the disease-bearing</text>
<text class="cap" x="86" y="716.5" textLength="415" lengthAdjust="spacing">chromosome is boxed. Possibly affected are indicated by hatching inside the symbol.</text>
</g>
</g>
</svg>
